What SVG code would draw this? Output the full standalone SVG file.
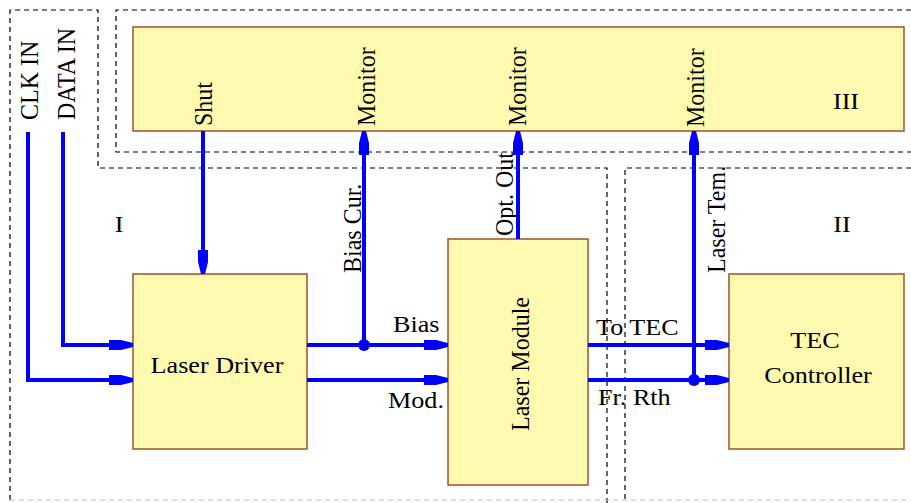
<svg xmlns="http://www.w3.org/2000/svg" width="911" height="503" viewBox="0 0 911 503">
<style>
.box{fill:#fffab0;stroke:#a0502d;stroke-width:1.5}
.reg{fill:none;stroke:#000;stroke-width:1.2;stroke-dasharray:5,4}
.w{fill:none;stroke:#0000ff;stroke-width:4}
.t{font-family:"Liberation Serif","Times New Roman",serif;font-size:24px;fill:#000}
.dot{fill:#0000ff}
</style>
<defs>
<marker id="ah" markerUnits="userSpaceOnUse" markerWidth="26" markerHeight="12" refX="24" refY="6" orient="auto" overflow="visible">
<path d="M0,1 L12,1 L24,4 L24,8 L12,11 L0,11 Z" fill="#0000ff"/>
</marker>
</defs>
<rect width="911" height="503" fill="#fff"/>
<g id="regions">
<path class="reg" d="M10,500 L10,10 L98,10 L98,168 L607,168 L607,503"/>
<path class="reg" d="M911,10 L116,10 L116,152 L911,152"/>
<path class="reg" d="M911,168 L625,168 L625,503"/>
<path d="M10,500 L911,500" fill="none" stroke="#bbb" stroke-width="1" stroke-dasharray="5,4"/>
</g>
<g id="monitor">
<rect class="box" x="133" y="27" width="771" height="104"/>
<text class="t" transform="translate(846,109) scale(1.09,1)" text-anchor="middle">III</text>
</g>
<g id="laser-driver">
<rect class="box" x="133" y="274" width="174" height="175"/>
<text class="t" transform="translate(217,373) scale(1.09,1)" text-anchor="middle">Laser Driver</text>
</g>
<g id="laser-module">
<rect class="box" x="448" y="239" width="140" height="246"/>
<text class="t" transform="translate(529,364) scale(1.09,1) rotate(-90)" text-anchor="middle">Laser Module</text>
</g>
<g id="tec-controller">
<rect class="box" x="729" y="274" width="175" height="175"/>
<text class="t" transform="translate(815,348) scale(1.09,1)" text-anchor="middle">TEC</text>
<text class="t" transform="translate(818,383) scale(1.09,1)" text-anchor="middle">Controller</text>
</g>
<g id="connectors">
<path class="w" d="M28,132 L28,380 L133,380" marker-end="url(#ah)"/>
<path class="w" d="M63,132 L63,345 L133,345" marker-end="url(#ah)"/>
<path class="w" d="M203,131 L203,274" marker-end="url(#ah)"/>
<path class="w" d="M307,345 L448,345" marker-end="url(#ah)"/>
<path class="w" d="M364,345 L364,131" marker-end="url(#ah)"/>
<path class="w" d="M307,380 L448,380" marker-end="url(#ah)"/>
<path class="w" d="M518,239 L518,131" marker-end="url(#ah)"/>
<path class="w" d="M588,345 L729,345" marker-end="url(#ah)"/>
<path class="w" d="M588,380 L729,380" marker-end="url(#ah)"/>
<path class="w" d="M694,380 L694,131" marker-end="url(#ah)"/>
<circle class="dot" cx="364" cy="345" r="6"/>
<circle class="dot" cx="694" cy="380" r="6"/>
</g>
<g id="labels">
<text class="t" transform="translate(38,120) scale(1.09,1) rotate(-90)">CLK IN</text>
<text class="t" transform="translate(75,120) scale(1.09,1) rotate(-90)">DATA IN</text>
<text class="t" transform="translate(212,126) scale(1.09,1) rotate(-90)">Shut</text>
<text class="t" transform="translate(375,126) scale(1.09,1) rotate(-90)">Monitor</text>
<text class="t" transform="translate(526,126) scale(1.09,1) rotate(-90)">Monitor</text>
<text class="t" transform="translate(704,127) scale(1.09,1) rotate(-90)">Monitor</text>
<text class="t" transform="translate(361,273) scale(1.09,1) rotate(-90)">Bias Cur.</text>
<text class="t" transform="translate(513,236) scale(1.09,1) rotate(-90)">Opt. Out</text>
<text class="t" transform="translate(725,273) scale(1.09,1) rotate(-90)">Laser Tem.</text>
<text class="t" transform="translate(119,232) scale(1.09,1)" text-anchor="middle">I</text>
<text class="t" transform="translate(842,232) scale(1.09,1)" text-anchor="middle">II</text>
<text class="t" transform="translate(393,332) scale(1.09,1)">Bias</text>
<text class="t" transform="translate(388,408) scale(1.09,1)">Mod.</text>
<text class="t" transform="translate(596,335) scale(1.09,1)">To TEC</text>
<text class="t" transform="translate(598,405) scale(1.09,1)">Fr. Rth</text>
</g>
</svg>
